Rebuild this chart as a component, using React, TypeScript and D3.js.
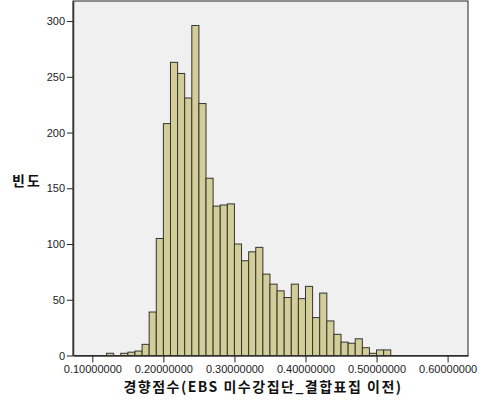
import React, { useRef, useEffect } from "react";
import * as d3 from "d3";

// histogram bins (lower edge, width 0.01) and frequencies
const binStarts = [
  0.12, 0.13, 0.14, 0.15, 0.16, 0.17, 0.18, 0.19, 0.2, 0.21, 0.22, 0.23, 0.24,
  0.25, 0.26, 0.27, 0.28, 0.29, 0.3, 0.31, 0.32, 0.33, 0.34, 0.35, 0.36, 0.37,
  0.38, 0.39, 0.4, 0.41, 0.42, 0.43, 0.44, 0.45, 0.46, 0.47, 0.48, 0.49, 0.5,
  0.51,
];
const counts = [
  2, 0, 2, 3, 4, 10, 39, 105, 208, 263, 253, 231, 296, 226, 159, 134, 135, 136,
  100, 85, 93, 97, 73, 64, 58, 52, 64, 51, 62, 34, 56, 31, 19, 12, 11, 15, 7, 2,
  5, 5,
];
const binWidth = 0.01;
const xTicks = [0.1, 0.2, 0.3, 0.4, 0.5, 0.6];
const yTicks = [0, 50, 100, 150, 200, 250, 300];
const xTitle = "경향점수(EBS 미수강집단_결합표집 이전)";
const yTitle = "빈도";

const App = () => {
  const ref = useRef<SVGSVGElement>(null);
  const width = 486;
  const height = 402;

  useEffect(() => {
    const svg = d3.select(ref.current);
    svg.selectAll("*").remove();

    const plot = { left: 73, right: 468, top: 1, bottom: 355.5 };

    const x = d3
      .scaleLinear()
      .domain([0.0728, 0.6287])
      .range([plot.left, plot.right]);

    const y = d3.scaleLinear().domain([0, 318]).range([plot.bottom, plot.top]);

    svg
      .append("rect")
      .attr("x", plot.left)
      .attr("y", plot.top)
      .attr("width", plot.right - plot.left)
      .attr("height", plot.bottom - plot.top)
      .attr("fill", "#f0f0f0")
      .attr("stroke", "#222")
      .attr("stroke-width", 1);

    const data = binStarts.map((b, i) => ({ x0: b, x1: b + binWidth, n: counts[i] }));

    svg
      .append("g")
      .selectAll("rect")
      .data(data.filter((d) => d.n > 0))
      .enter()
      .append("rect")
      .attr("x", (d) => x(d.x0))
      .attr("y", (d) => y(d.n))
      .attr("width", (d) => x(d.x1) - x(d.x0))
      .attr("height", (d) => y(0) - y(d.n))
      .attr("fill", "#d3ce97")
      .attr("stroke", "#333")
      .attr("stroke-width", 1);

    const font = "'Liberation Sans', Arial, sans-serif";

    const yAxis = svg
      .append("g")
      .attr("transform", `translate(${plot.left},0)`)
      .call(
        d3
          .axisLeft(y)
          .tickValues(yTicks)
          .tickSize(6)
          .tickSizeOuter(0)
          .tickPadding(2)
      );
    yAxis.select(".domain").attr("stroke", "#333").attr("stroke-width", 1.5);
    yAxis.selectAll(".tick line").attr("stroke", "#222");
    yAxis
      .selectAll("text")
      .attr("fill", "#222")
      .style("font-family", font)
      .style("font-size", "11px");

    const xAxis = svg
      .append("g")
      .attr("transform", `translate(0,${plot.bottom})`)
      .call(
        d3
          .axisBottom(x)
          .tickValues(xTicks)
          .tickFormat((d) => (d as number).toFixed(8))
          .tickSize(7)
          .tickSizeOuter(0)
          .tickPadding(3)
      );
    xAxis.select(".domain").attr("stroke", "#333").attr("stroke-width", 1.5);
    xAxis.selectAll(".tick line").attr("stroke", "#222");
    xAxis
      .selectAll("text")
      .attr("fill", "#222")
      .style("font-family", font)
      .style("font-size", "11px");

    svg
      .append("text")
      .attr("x", 263)
      .attr("y", 392)
      .attr("text-anchor", "middle")
      .attr("fill", "#111")
      .style("font-family", "'Noto Sans CJK KR', sans-serif")
      .style("font-size", "14px")
      .style("font-weight", "bold")
      .style("letter-spacing", "1.5px")
      .text(xTitle);

    svg
      .append("text")
      .attr("x", 27)
      .attr("y", 186)
      .attr("text-anchor", "middle")
      .attr("fill", "#111")
      .style("font-family", "'Noto Sans CJK KR', sans-serif")
      .style("font-size", "14px")
      .style("font-weight", "bold")
      .style("letter-spacing", "2px")
      .text(yTitle);
  }, []);

  return (
    <svg
      ref={ref}
      width={width}
      height={height}
      style={{ position: "absolute", left: 0, top: 0, background: "#fff" }}
    ></svg>
  );
};

export default App;
